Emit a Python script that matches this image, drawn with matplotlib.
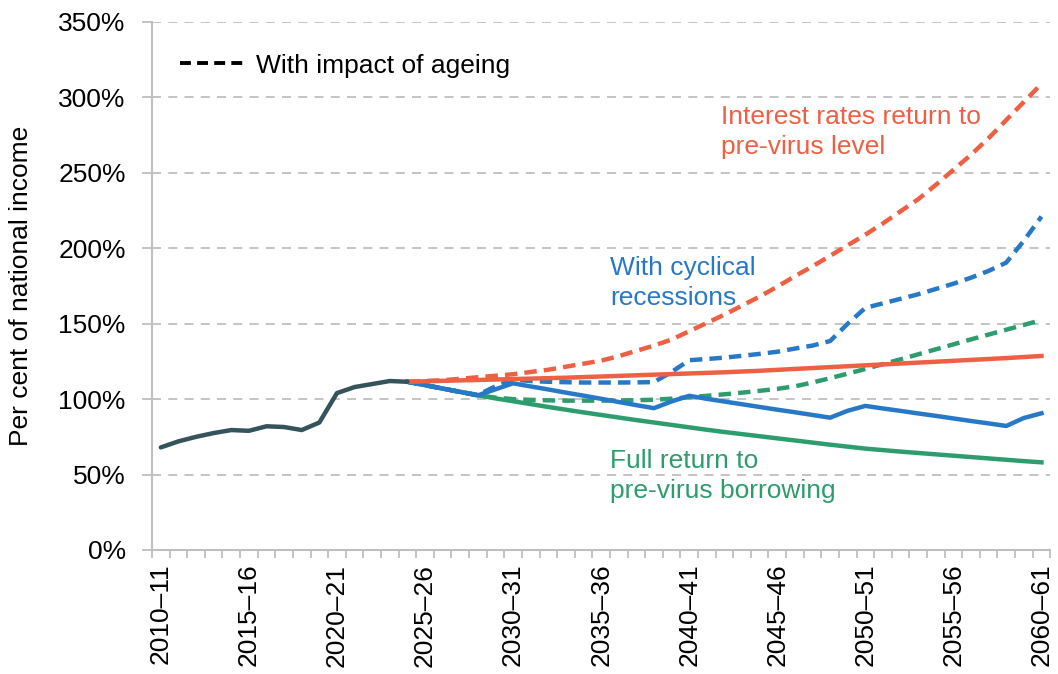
import matplotlib.pyplot as plt
from matplotlib.lines import Line2D

plt.rcParams['font.family'] = ['Liberation Sans', 'DejaVu Sans']

# Fiscal years 2010-11 .. 2060-61
years = [f"{y}\u2013{str(y + 1)[-2:]}" for y in range(2010, 2061)]
tick_labels = years[::5]

# Outturn / short-term forecast, 2010-11 .. 2024-25
history = [68, 72, 75, 77.5, 79.5, 79, 82, 81.5, 79.5, 84.5,
           104, 108, 110, 112, 111.5]

# Projections, 2024-25 .. 2060-61
interest_solid = [111.5, 111.8, 112.1, 112.4, 112.7, 113.0, 113.3, 113.6, 113.9, 114.2,
                  114.6, 115.0, 115.4, 115.8, 116.2, 116.6, 117.0, 117.4, 117.8, 118.3,
                  118.8, 119.4, 120.0, 120.6, 121.2, 121.8, 122.4, 123.0, 123.6, 124.2,
                  124.8, 125.4, 126.0, 126.6, 127.2, 127.9, 128.6]
interest_ageing = [111.5, 112, 112.5, 113.5, 114.5, 115.5, 116.5, 118, 119.5, 121.5,
                   123.5, 125.5, 128.5, 132, 135.5, 139.5, 145, 150.5, 156, 162,
                   168, 174.5, 181.5, 188, 195, 202, 209, 216.5, 224.5, 232.5,
                   242, 252, 262, 273, 285, 297, 309]
cyclical_solid = [111.5, 109.3, 107, 104.8, 102.5, 106.5, 110.5, 108.4, 106.4, 104.3,
                  102.3, 100.2, 98.1, 96, 94, 98.5, 102.2, 100.2, 98.4, 96.6,
                  94.8, 93, 91.3, 89.5, 87.7, 92.3, 95.5, 93.8, 92.2, 90.5,
                  88.9, 87.2, 85.5, 83.9, 82.2, 87.5, 90.6]
cyclical_ageing = [111.5, 109.3, 107, 104.8, 102.8, 108.5, 113, 112, 111.5, 111.2,
                   111, 111, 111, 111.1, 111.3, 118, 125.8, 126.6, 127.5, 128.7,
                   130, 131.4, 133.5, 135.5, 138.5, 150, 160.5, 163.5, 166.5, 169.5,
                   173, 176.5, 180.5, 185, 190.5, 205, 221]
borrowing_solid = [111.5, 109.3, 107, 104.8, 102.5, 100.5, 98.6, 96.7, 94.8, 93,
                   91.2, 89.5, 87.8, 86.1, 84.5, 82.9, 81.3, 79.7, 78.2, 76.8,
                   75.4, 74, 72.6, 71.2, 69.8, 68.5, 67.2, 66.2, 65.2, 64.3,
                   63.4, 62.5, 61.6, 60.7, 59.8, 58.9, 58.1]
borrowing_ageing = [111.5, 109.3, 107, 104.8, 102.5, 101, 100, 99.5, 99.2, 99,
                    99, 99, 99.1, 99.3, 99.6, 100.3, 101.2, 102.2, 103.2, 104.3,
                    105.5, 106.8, 108.5, 111, 113.9, 116.9, 120, 123.2, 126.4, 129.7,
                    133, 136.3, 139.6, 142.8, 146, 149.2, 152.4]

dark = '#35535A'
red = '#EE5F43'
blue = '#2878C8'
green = '#2E9D6D'
grey = '#BFBFBF'

hist_x = list(range(len(history)))
proj_x = list(range(len(history) - 1, len(years)))

fig = plt.figure(figsize=(10.58, 6.74), dpi=100)
ax = fig.add_axes([0.1437, 0.184, 0.8490, 0.7834])

dash = (2.8, 1.6)
lw = 3.2
ax.plot(proj_x, borrowing_ageing, color=green, lw=lw, dashes=dash, zorder=3)
ax.plot(proj_x, cyclical_ageing, color=blue, lw=lw, dashes=dash, zorder=3)
ax.plot(proj_x, interest_ageing, color=red, lw=lw, dashes=dash, zorder=3)
ax.plot(proj_x, borrowing_solid, color=green, lw=lw, zorder=4)
ax.plot(proj_x, cyclical_solid, color=blue, lw=lw, zorder=4)
ax.plot(proj_x, interest_solid, color=red, lw=lw, zorder=4)
ax.plot(hist_x, history, color=dark, lw=lw, zorder=5, solid_capstyle='round')

ax.set_xlim(-0.5, len(years) - 0.5)
ax.set_ylim(0, 350)
ax.set_yticks(range(0, 351, 50))
ax.set_yticklabels([f"{v}%" for v in range(0, 351, 50)])
ax.set_xticks(range(0, len(years), 5))
ax.set_xticklabels(tick_labels, rotation=90)
ax.set_xticks([i - 0.5 for i in range(len(years) + 1)], minor=True)
ax.tick_params(axis='x', which='major', length=0, pad=10, labelsize=19)
ax.tick_params(axis='x', which='minor', length=6, color=grey, width=1.3)
ax.tick_params(axis='y', length=7, color=grey, width=1.3, labelsize=19, pad=12)

ax.grid(axis='y', color=grey, lw=1.3, dashes=(5, 4))
ax.set_axisbelow(True)
for side in ['top', 'right']:
    ax.spines[side].set_visible(False)
for side in ['left', 'bottom']:
    ax.spines[side].set_color(grey)
    ax.spines[side].set_linewidth(1.5)

ax.set_ylabel('Per cent of national income', fontsize=19)
ax.yaxis.set_label_coords(-0.132, 0.5)

ax.text(31.8, 277, 'Interest rates return to\npre-virus level', color=red,
        fontsize=19, va='center', ha='left', linespacing=1.32)
ax.text(25.5, 177, 'With cyclical\nrecessions', color=blue,
        fontsize=19, va='center', ha='left', linespacing=1.32)
ax.text(25.5, 49, 'Full return to\npre-virus borrowing', color=green,
        fontsize=19, va='center', ha='left', linespacing=1.32)

handle = Line2D([], [], color='black', lw=2.8, dashes=(2.8, 1.6))
ax.legend([handle], ['With impact of ageing'], loc='upper left', frameon=False,
          fontsize=19, handlelength=2.5, handletextpad=0.38,
          bbox_to_anchor=(0.005, 0.985))

fig.savefig('out.png', dpi=100)
